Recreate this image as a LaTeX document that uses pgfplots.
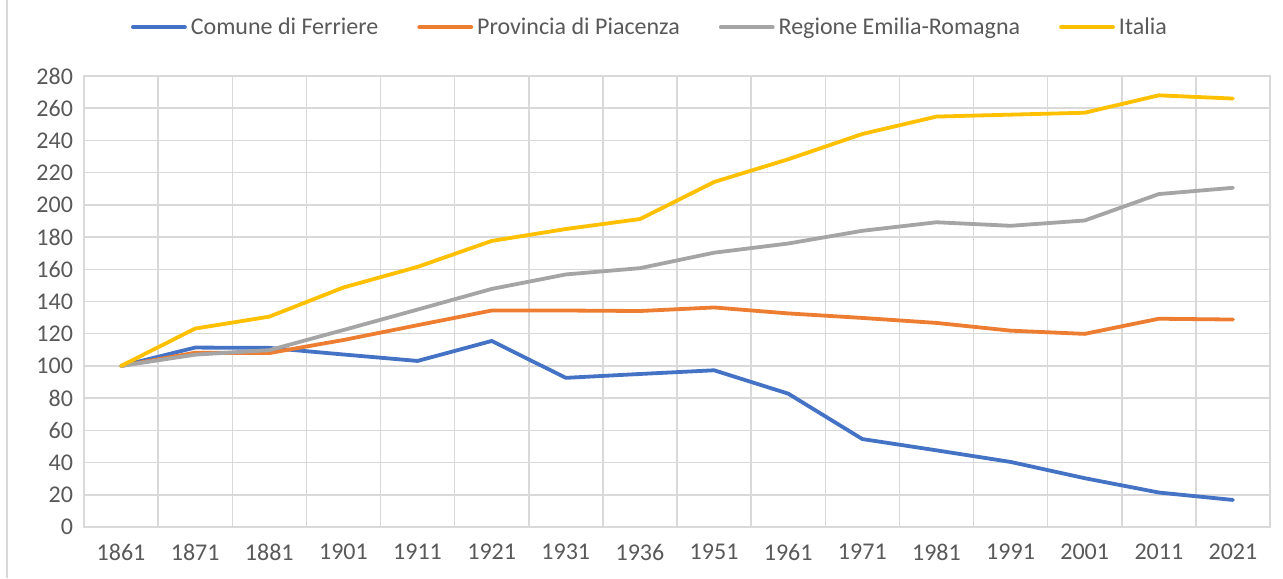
\documentclass[border=0pt]{standalone}
\usepackage{fontspec}
\setmainfont{Carlito}
\usepackage{pgfplots}
\pgfplotsset{compat=1.18}
\definecolor{cblue}{HTML}{4472C4}
\definecolor{corange}{HTML}{ED7D31}
\definecolor{cgrey}{HTML}{A5A5A5}
\definecolor{cyellow}{HTML}{FFC000}
\definecolor{ctext}{HTML}{595959}
\definecolor{cgrid}{HTML}{D9D9D9}
\begin{document}
\begin{tikzpicture}[x=1pt,y=1pt]
\useasboundingbox (0,0) rectangle (641.5,289);
\fill[white] (0,0) rectangle (641.5,289);
\draw[cgrid, line width=0.8pt] (3.5,0) -- (3.5,289);
\begin{axis}[
  at={(42pt,25.5pt)}, anchor=south west,
  scale only axis, width=593pt, height=225.5pt,
  xmin=-0.5, xmax=15.5, ymin=0, ymax=280,
  xtick={0,...,15},
  xticklabels={1861,1871,1881,1901,1911,1921,1931,1936,1951,1961,1971,1981,1991,2001,2011,2021},
  minor xtick={0.5,1.5,...,14.5},
  ytick={0,20,...,280},
  xmajorgrids=false, xminorgrids=true, ymajorgrids=true,
  grid style={cgrid, line width=0.75pt},
  minor grid style={cgrid, line width=0.75pt},
  axis line style={cgrid, line width=0.8pt},
  major tick length=0pt, minor tick length=0pt,
  tick style={draw=none},
  ticklabel style={font=\fontsize{12}{14}\selectfont, text=ctext},
  /pgf/number format/assume math mode=true,
  xticklabel style={yshift=-5pt},
  yticklabel style={xshift=-2pt},
  legend style={draw=none, fill=none, at={(0.478,1.0)}, yshift=33.5pt, anchor=north,
    legend columns=-1, font=\fontsize{12}{14}\selectfont, text=ctext,
    /tikz/every even column/.append style={column sep=17.5pt}},
  legend image code/.code={\draw[#1, line width=1.9pt, line cap=round] (0pt,0pt) -- (26pt,0pt);},
  every axis plot/.append style={line width=1.9pt, line join=round, line cap=round},
]
\addplot[cblue] coordinates {(0,100) (1,111.4) (2,111.2) (3,107.1) (4,103.1) (5,115.5) (6,92.6) (7,95.0) (8,97.3) (9,82.8) (10,54.6) (11,47.6) (12,40.4) (13,30.3) (14,21.4) (15,16.8)};
\addplot[corange] coordinates {(0,100) (1,108.2) (2,108.0) (3,116.1) (4,125.3) (5,134.4) (6,134.4) (7,134.1) (8,136.3) (9,132.6) (10,129.8) (11,126.7) (12,121.9) (13,119.9) (14,129.3) (15,128.8)};
\addplot[cgrey] coordinates {(0,100) (1,107.0) (2,109.8) (3,122.3) (4,135.0) (5,147.8) (6,156.8) (7,160.7) (8,170.3) (9,176.0) (10,183.9) (11,189.2) (12,187.0) (13,190.3) (14,206.7) (15,210.6)};
\addplot[cyellow] coordinates {(0,100) (1,123.2) (2,130.6) (3,148.7) (4,161.5) (5,177.6) (6,185.0) (7,191.2) (8,214.2) (9,228.3) (10,244.0) (11,254.8) (12,256.0) (13,257.2) (14,268.0) (15,266.0)};
\legend{Comune di Ferriere,Provincia di Piacenza,Regione Emilia-Romagna,Italia}
\end{axis}
\end{tikzpicture}
\end{document}
